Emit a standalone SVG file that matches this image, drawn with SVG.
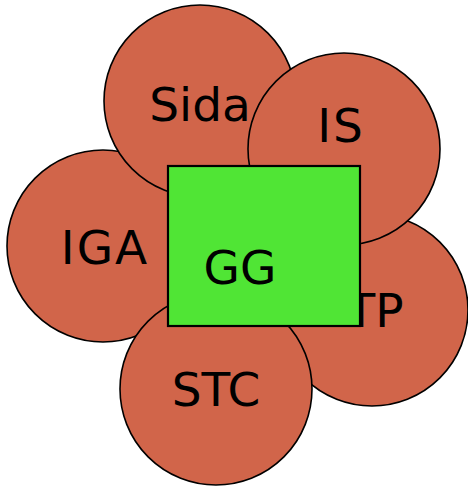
<svg xmlns="http://www.w3.org/2000/svg" width="468" height="486" viewBox="0 0 468 486">
  <style>
    .petal { fill: #D1654A; stroke: #000; stroke-width: 1.6; }
    .core { fill: #50E535; stroke: #000; stroke-width: 2.2; }
    .label { font-family: "DejaVu Sans", Verdana, sans-serif; font-size: 47px; fill: #000; text-anchor: middle; }
  </style>
  <rect width="468" height="486" fill="#fff"/>

  <!-- petals, back to front -->
  <g id="IGA">
    <circle class="petal" cx="103" cy="246" r="96"/>
    <text class="label" x="105" y="264" letter-spacing="2">IGA</text>
  </g>
  <g id="TP">
    <circle class="petal" cx="372" cy="310" r="96"/>
    <text class="label" x="375" y="327">TP</text>
  </g>
  <g id="Sida">
    <circle class="petal" cx="200" cy="101" r="96"/>
    <text class="label" x="200" y="121">Sida</text>
  </g>
  <g id="IS">
    <circle class="petal" cx="344" cy="149" r="96"/>
    <text class="label" x="341" y="142" letter-spacing="2">IS</text>
  </g>
  <g id="STC">
    <circle class="petal" cx="216" cy="389" r="96"/>
    <text class="label" x="216" y="406">STC</text>
  </g>

  <!-- centre box -->
  <g id="GG">
    <rect class="core" x="168" y="166" width="192" height="160"/>
    <text class="label" x="240" y="284">GG</text>
  </g>
</svg>
